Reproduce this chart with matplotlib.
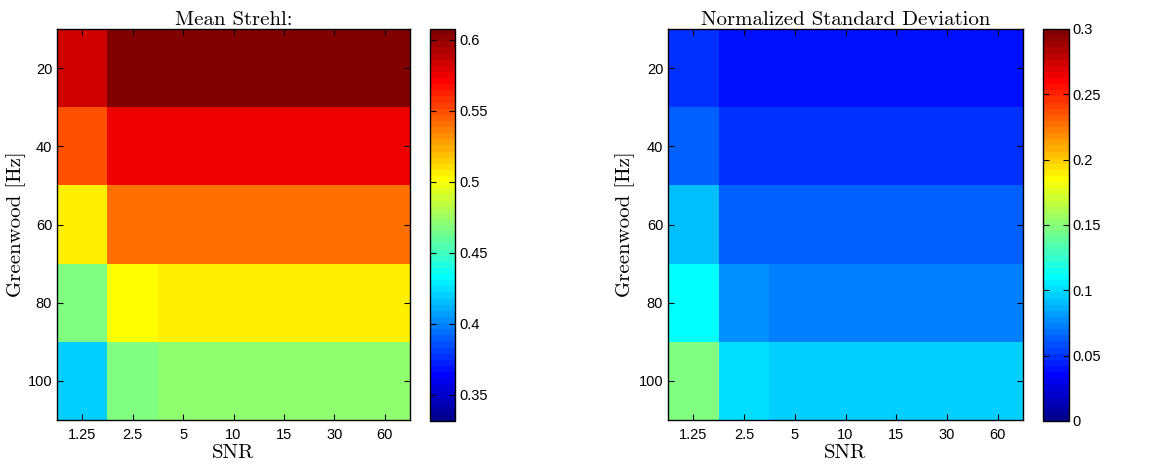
import numpy as np
import matplotlib
matplotlib.use("Agg")
import matplotlib.pyplot as plt
from matplotlib.colors import ListedColormap

snr_labels = ["1.25", "2.5", "5", "10", "15", "30", "60"]
greenwood = [20, 40, 60, 80, 100]

mean_strehl = np.array([
    [0.584, 0.606, 0.606, 0.606, 0.606, 0.606, 0.606],
    [0.549, 0.575, 0.575, 0.575, 0.575, 0.575, 0.575],
    [0.506, 0.541, 0.541, 0.541, 0.541, 0.541, 0.541],
    [0.467, 0.502, 0.506, 0.506, 0.506, 0.506, 0.506],
    [0.420, 0.467, 0.472, 0.472, 0.472, 0.472, 0.472],
])

norm_std = np.array([
    [0.049, 0.040, 0.040, 0.040, 0.040, 0.040, 0.040],
    [0.064, 0.049, 0.049, 0.049, 0.049, 0.049, 0.049],
    [0.091, 0.063, 0.063, 0.063, 0.063, 0.063, 0.063],
    [0.110, 0.077, 0.073, 0.073, 0.073, 0.073, 0.073],
    [0.148, 0.101, 0.096, 0.096, 0.096, 0.096, 0.096],
])

strehl_clim = (0.3315, 0.6075)
std_clim = (0.0, 0.3)
strehl_ticks = [0.35, 0.4, 0.45, 0.5, 0.55, 0.6]
std_ticks = [0, 0.05, 0.1, 0.15, 0.2, 0.25, 0.3]


def matlab_jet(n=64):
    m = int(np.ceil(n / 4))
    u = np.concatenate([np.arange(1, m + 1) / m, np.ones(m - 1), np.arange(m, 0, -1) / m])
    g = int(np.ceil(m / 2)) - (1 if n % 4 == 1 else 0) + np.arange(1, len(u) + 1)
    r = g + m
    b = g - m
    J = np.zeros((n, 3))
    J[r[r <= n] - 1, 0] = u[r <= n]
    J[g[g <= n] - 1, 1] = u[g <= n]
    J[b[b >= 1] - 1, 2] = u[b >= 1]
    return ListedColormap(J)


plt.rcParams['font.family'] = ['Liberation Sans', 'DejaVu Sans']
plt.rcParams['axes.unicode_minus'] = False
serif = 'cmr10'

W, H = 1157, 467
fig = plt.figure(figsize=(W / 100, H / 100), dpi=100)
cmap = matlab_jet(64)


def panel(ax_rect, cb_rect, data, clim, cticks, title, ylab_x):
    ax = fig.add_axes(ax_rect)
    cax = fig.add_axes(cb_rect)
    nx = len(snr_labels)
    xe = np.arange(nx + 1) + 0.5
    ye = np.concatenate([[greenwood[0] - 10], np.array(greenwood) + 10])
    m = ax.pcolormesh(xe, ye, data, cmap=cmap, vmin=clim[0], vmax=clim[1])
    ax.set_xlim(0.5, nx + 0.5)
    ax.set_ylim(ye[-1], ye[0])
    ax.set_xticks(np.arange(1, nx + 1))
    ax.set_xticklabels(snr_labels)
    ax.set_yticks(greenwood)
    ax.tick_params(direction='in', top=True, right=True, labelsize=10.5,
                   length=4, width=0.8)
    ax.tick_params(axis='x', pad=6)
    ax.tick_params(axis='y', pad=3.5)
    for s in ax.spines.values():
        s.set_linewidth(1.0)
    ax.set_xlabel('SNR', fontsize=15, family=serif, labelpad=1)
    ax.set_ylabel('Greenwood [Hz]', fontsize=15, family=serif)
    ax.yaxis.set_label_coords(ylab_x, 0.5)
    ax.set_title(title, fontsize=15, family=serif, pad=3)
    cb = fig.colorbar(m, cax=cax, ticks=cticks)
    cb.ax.tick_params(direction='in', left=True, right=True, labelsize=10.5,
                      length=4, width=0.8, pad=3)
    cb.ax.set_yticklabels([('%g' % t) for t in cticks])
    cb.outline.set_linewidth(1.0)
    return ax


def rect(x0, y0, x1, y1):
    return [x0 / W, 1 - y1 / H, (x1 - x0) / W, (y1 - y0) / H]


panel(rect(57, 29, 410, 420), rect(430, 29, 455.5, 421), mean_strehl,
      strehl_clim, strehl_ticks, 'Mean Strehl:', -0.088)
panel(rect(668, 29, 1023, 420), rect(1043, 29, 1068.5, 421), norm_std,
      std_clim, std_ticks, 'Normalized Standard Deviation', -0.092)

fig.savefig('out.png', dpi=100)
